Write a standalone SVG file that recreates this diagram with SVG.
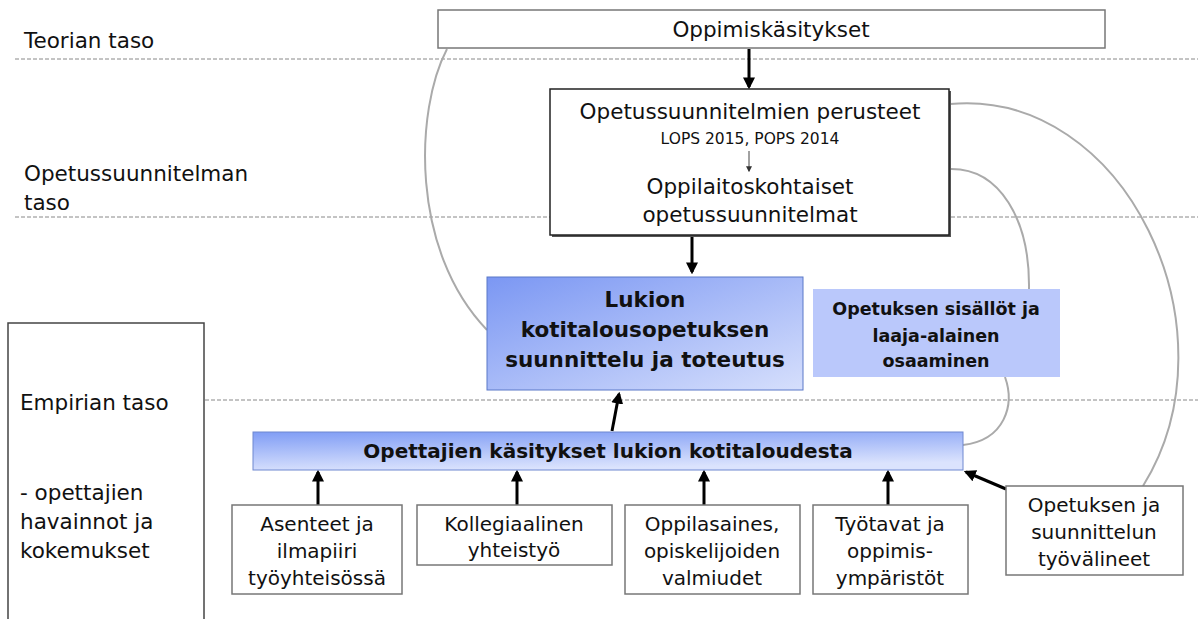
<svg xmlns="http://www.w3.org/2000/svg" width="1198" height="619" viewBox="0 0 1198 619">
<style>
text{font-family:"DejaVu Sans","Liberation Sans",sans-serif;fill:#111;}
.lvl{font-size:21.5px;}
.c{text-anchor:middle;}
.b{font-weight:bold;}
.dash{stroke:#888;stroke-width:1;stroke-dasharray:4 2;fill:none;}
.curve{stroke:#aaa;stroke-width:2;fill:none;}
.arr{stroke:#000;stroke-width:3;fill:none;marker-end:url(#ah);}
.box{fill:#fff;stroke:#777;stroke-width:1.5;}
.small{font-size:20px;}
</style>
<defs>
<marker id="ah" viewBox="0 0 10 10" refX="8" refY="5" markerWidth="4" markerHeight="4" orient="auto"><path d="M0,0 L10,5 L0,10 z" fill="#000"/></marker>
<marker id="ah2" viewBox="0 0 10 10" refX="8" refY="5" markerWidth="6" markerHeight="6" orient="auto"><path d="M0,0 L10,5 L0,10 z" fill="#333"/></marker>
<linearGradient id="g1" x1="0" y1="0" x2="1" y2="1"><stop offset="0" stop-color="#7b97f3"/><stop offset="1" stop-color="#d6dffc"/></linearGradient>
<linearGradient id="g2" x1="0" y1="0" x2="0.3" y2="1"><stop offset="0" stop-color="#809df5"/><stop offset="1" stop-color="#dbe3fd"/></linearGradient>
</defs>

<g id="levels">
<line class="dash" x1="15" y1="59" x2="1198" y2="59"/>
<line class="dash" x1="15" y1="217" x2="1198" y2="217"/>
<line class="dash" x1="205" y1="400" x2="1198" y2="400"/>
<text class="lvl" x="24" y="48">Teorian taso</text>
<text class="lvl" x="24" y="181">Opetussuunnitelman</text>
<text class="lvl" x="24" y="210">taso</text>
</g>

<g id="empiria">
<rect x="8" y="323" width="196" height="310" fill="#fff" stroke="#444" stroke-width="1.5"/>
<text class="lvl" x="20" y="410">Empirian taso</text>
<text class="lvl" x="20" y="500">- opettajien</text>
<text class="lvl" x="20" y="529">havainnot ja</text>
<text class="lvl" x="20" y="558">kokemukset</text>
</g>

<g id="connectors">
<path class="curve" d="M447,49 C415,110 410,250 487,330"/>
<path class="curve" d="M950,104 C1125,88 1240,330 1143,486"/>
<path class="curve" d="M950,169 C1000,168 1030,220 1029,289"/>
<path class="curve" d="M1005,377 C1015,405 1005,440 963,445"/>
<path class="arr" d="M749,49 L749,87"/>
<path class="arr" d="M692,236 L692,272"/>
<path class="arr" d="M612,431 L619,394"/>
<path class="arr" d="M318,505 L318,472"/>
<path class="arr" d="M517,505 L517,472"/>
<path class="arr" d="M704,505 L704,472"/>
<path class="arr" d="M888,505 L888,472"/>
<path class="arr" d="M1006,489 L966,472"/>
</g>

<g id="oppimiskasitykset">
<rect x="438" y="10" width="667" height="38" fill="#fff" stroke="#777" stroke-width="1.5"/>
<text class="lvl c" x="771" y="37">Oppimiskäsitykset</text>
</g>

<g id="perusteet">
<rect x="552" y="91" width="399" height="146" fill="#555"/>
<rect x="550" y="89" width="399" height="146" fill="#fff" stroke="#222" stroke-width="1.5"/>
<text class="lvl c" x="750" y="119">Opetussuunnitelmien perusteet</text>
<text class="c" x="750" y="144" font-size="15.5">LOPS 2015, POPS 2014</text>
<path d="M749,151 L749,171" stroke="#444" stroke-width="1" marker-end="url(#ah2)"/>
<text class="lvl c" x="750" y="194">Oppilaitoskohtaiset</text>
<text class="lvl c" x="750" y="222">opetussuunnitelmat</text>
</g>

<g id="lukion">
<rect x="487" y="277" width="316" height="113" fill="url(#g1)" stroke="#5a78c8" stroke-width="1"/>
<text class="c b" x="645" y="307" font-size="21.5">Lukion</text>
<text class="c b" x="645" y="337" font-size="21.5">kotitalousopetuksen</text>
<text class="c b" x="645" y="367" font-size="21.5">suunnittelu ja toteutus</text>
</g>

<g id="sisallot">
<rect x="813" y="289" width="247" height="88" fill="#bac8fb"/>
<text class="c b" x="936" y="315" font-size="17.5">Opetuksen sisällöt ja</text>
<text class="c b" x="936" y="342" font-size="17.5">laaja-alainen</text>
<text class="c b" x="936" y="367" font-size="17.5">osaaminen</text>
</g>

<g id="opettajien">
<rect x="253" y="432" width="710" height="38" fill="url(#g2)" stroke="#6f88d0" stroke-width="1"/>
<text class="c b" x="608" y="458" font-size="20">Opettajien käsitykset lukion kotitaloudesta</text>
</g>

<g id="asenteet">
<rect class="box" x="232" y="505" width="170" height="89"/>
<text class="small c" x="317" y="531">Asenteet ja</text>
<text class="small c" x="317" y="558">ilmapiiri</text>
<text class="small c" x="317" y="585">työyhteisössä</text>
</g>

<g id="kollegiaalinen">
<rect class="box" x="417" y="505" width="195" height="60"/>
<text class="small c" x="514" y="531">Kollegiaalinen</text>
<text class="small c" x="514" y="557">yhteistyö</text>
</g>

<g id="oppilasaines">
<rect class="box" x="625" y="505" width="175" height="89"/>
<text class="small c" x="712" y="531">Oppilasaines,</text>
<text class="small c" x="712" y="558">opiskelijoiden</text>
<text class="small c" x="712" y="585">valmiudet</text>
</g>

<g id="tyotavat">
<rect class="box" x="813" y="505" width="155" height="89"/>
<text class="small c" x="890" y="531">Työtavat ja</text>
<text class="small c" x="890" y="558">oppimis-</text>
<text class="small c" x="890" y="585">ympäristöt</text>
</g>

<g id="tyovalineet">
<rect class="box" x="1006" y="486" width="177" height="89"/>
<text class="small c" x="1094" y="512">Opetuksen ja</text>
<text class="small c" x="1094" y="539">suunnittelun</text>
<text class="small c" x="1094" y="566">työvälineet</text>
</g>
</svg>
